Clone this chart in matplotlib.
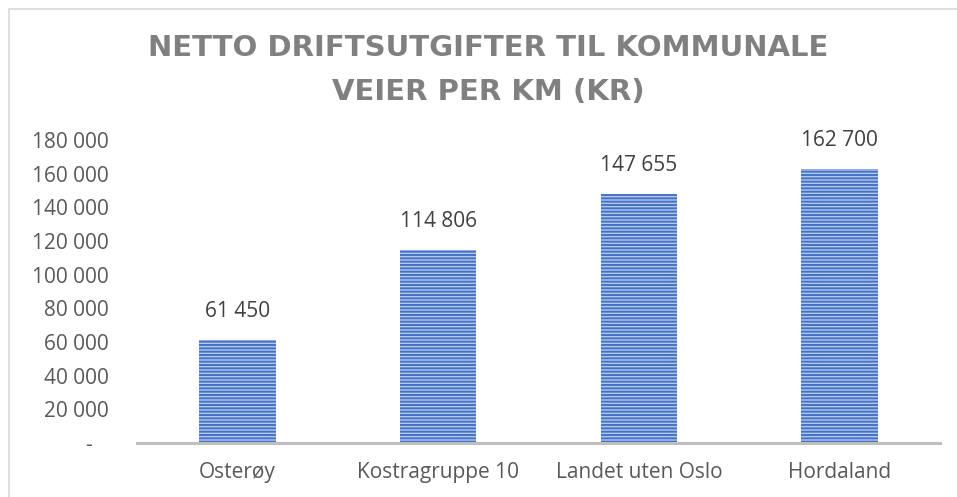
import matplotlib.pyplot as plt
from matplotlib.patches import Rectangle
from matplotlib.ticker import FuncFormatter

# Netto driftsutgifter til kommunale veier per km (kr)
kategorier = ["Osterøy", "Kostragruppe 10", "Landet uten Oslo", "Hordaland"]
verdier = [61450, 114806, 147655, 162700]
y_ticks = list(range(0, 180001, 20000))

plt.rcParams['font.family'] = ['Open Sans', 'DejaVu Sans']
plt.rcParams['hatch.linewidth'] = 1.4
plt.rcParams['hatch.color'] = '#4472C4'

W, H = 957, 497
fig = plt.figure(figsize=(W / 100, H / 100), dpi=100)
ax = fig.add_axes([137 / W, 1 - 443 / H, (940 - 137) / W, (443 - 140) / H])


def tusen(v, pos=None):
    if v == 0:
        return "-   "
    return f"{v:,.0f}".replace(",", " ")


x = range(len(kategorier))
bars = ax.bar(x, verdier, width=0.38, color='#b4c8ec', edgecolor='#4472C4',
              linewidth=0, hatch='-----')

for xi, v in zip(x, verdier):
    ax.annotate(tusen(v), (xi, v), xytext=(0, 13), textcoords='offset points',
                ha='center', va='bottom', fontsize=15, color='#404040')

ax.set_xlim(-0.5, len(kategorier) - 0.5)
ax.set_ylim(0, 180000)
ax.set_yticks(y_ticks)
ax.yaxis.set_major_formatter(FuncFormatter(tusen))
ax.set_xticks(list(x))
ax.set_xticklabels(kategorier)
ax.tick_params(axis='both', length=0, labelsize=15, labelcolor='#595959')
ax.tick_params(axis='y', pad=20)
ax.tick_params(axis='x', pad=14)

for s in ['top', 'right', 'left']:
    ax.spines[s].set_visible(False)
ax.spines['bottom'].set_color('#bfbfbf')
ax.spines['bottom'].set_linewidth(2.2)

fig.text(488 / W, 1 - 48 / H, "NETTO DRIFTSUTGIFTER TIL KOMMUNALE",
         ha='center', va='center', fontsize=21, fontweight='bold',
         color='#808080', family=['DejaVu Sans'])
fig.text(488 / W, 1 - 92 / H, "VEIER PER KM (KR)",
         ha='center', va='center', fontsize=21, fontweight='bold',
         color='#808080', family=['DejaVu Sans'])

# ramme rundt diagramområdet
fig.patches.append(Rectangle((9 / W, -0.1), 1.2, 1 - 9 / H + 0.1,
                             transform=fig.transFigure, fill=False,
                             edgecolor='#d9d9d9', linewidth=1.2))

fig.savefig("out.png", dpi=100)
